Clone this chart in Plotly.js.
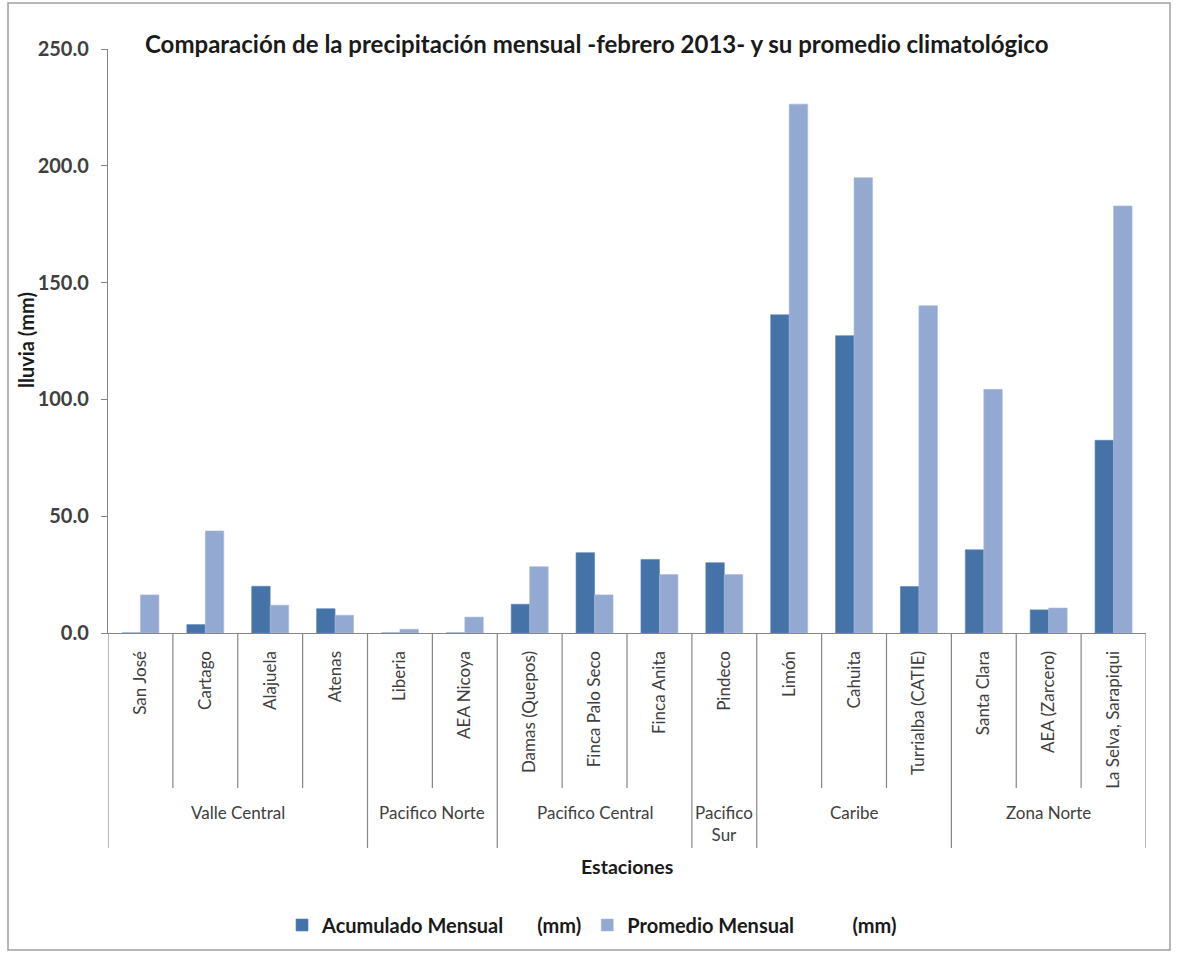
<!DOCTYPE html>
<html>
<head>
<meta charset="utf-8">
<script src="https://cdn.plot.ly/plotly-3.0.1.min.js"></script>
<style>html,body{margin:0;padding:0;background:#fff;}#chart{width:1177px;height:955px;}</style>
</head>
<body>
<div id="chart"></div>
<script>
// ---- data ----
var stations = ["San José","Cartago","Alajuela","Atenas","Liberia","AEA Nicoya","Damas (Quepos)","Finca Palo Seco","Finca Anita","Pindeco","Limón","Cahuita","Turrialba (CATIE)","Santa Clara","AEA (Zarcero)","La Selva, Sarapiqui"];
var acumulado = [0, 3.6, 20.0, 10.4, 0, 0, 12.3, 34.4, 31.5, 30.1, 136.2, 127.3, 19.9, 35.6, 9.9, 82.5];
var promedio  = [16.3, 43.7, 11.9, 7.6, 1.6, 6.8, 28.4, 16.3, 25.0, 25.0, 226.4, 194.9, 140.1, 104.3, 10.7, 182.8];
var regions = ["Valle Central","Pacifico Norte","Pacifico Central","Pacifico<br>Sur","Caribe","Zona Norte"];
var regionSizes = [4, 2, 3, 1, 3, 3];
var yTicks = [0, 50, 100, 150, 200, 250];

var FONT = "Lato, 'Open Sans', sans-serif";
var GRAY = "#868686";
function nb(n){ return new Array(n + 1).join("\u00a0"); }

var traces = [
  {type:"bar", name:"Acumulado Mensual" + nb(7) + "(mm)", x:stations, y:acumulado,
   marker:{color:"#4572A7", line:{color:"#5A84B8", width:0.6}}},
  {type:"bar", name:"Promedio Mensual" + nb(12) + "(mm)", x:stations, y:promedio,
   marker:{color:"#94A9D1", line:{color:"#A9BBDC", width:0.6}}}
];

// separators and group labels
var shapes = [];
var annotations = [];
var pxH = 584; // plot height in px (for paper conversion)
function py(p){ return -(p)/pxH; } // p: px below the axis
var start = 0;
var groupBounds = {0:true};
for (var g = 0; g < regions.length; g++) {
  var end = start + regionSizes[g];
  groupBounds[end] = true;
  annotations.push({xref:"x", yref:"paper", x:(start + end - 1)/2, y:py(167), yanchor:"top", xanchor:"center",
    text:regions[g], showarrow:false, font:{family:FONT, size:17, color:"#404040"}, align:"center"});
  start = end;
}
for (var i = 0; i <= stations.length; i++) {
  var len = groupBounds[i] ? 215 : 155;
  shapes.push({type:"line", xref:"x", yref:"paper", x0:i-0.5, x1:i-0.5, y0:0, y1:py(len),
    line:{color:GRAY, width:1.2}});
}
// outer border
shapes.push({type:"rect", xref:"paper", yref:"paper", x0:(8-108)/1038, x1:(1170-108)/1038, y0:py(317), y1:(633-3)/pxH,
  line:{color:"#a0a0a0", width:1.5}, fillcolor:"rgba(0,0,0,0)"});

annotations.push({xref:"paper", yref:"paper", x:0.5, y:py(233), yanchor:"middle", xanchor:"center",
  text:"<b>Estaciones</b>", showarrow:false, font:{family:FONT, size:19.5, color:"#1a1a1a"}});
annotations.push({xref:"paper", yref:"paper", x:(26-108)/1038, y:(633-340)/pxH, xanchor:"center", yanchor:"middle",
  text:"<b>lluvia (mm)</b>", textangle:-90, showarrow:false, font:{family:FONT, size:20, color:"#1a1a1a"}});

var layout = {
  width:1177, height:955,
  margin:{l:108, r:31, t:49, b:322},
  paper_bgcolor:"#fff", plot_bgcolor:"#fff",
  barmode:"group", bargap:0.43, bargroupgap:0,
  title:{text:"<b>Comparación de la precipitación mensual -febrero 2013- y su promedio climatológico</b>",
    xref:"container", yref:"container", x:0.507, y:1-45/955, xanchor:"center", yanchor:"middle",
    font:{family:FONT, size:24, color:"#1a1a1a"}},
  xaxis:{type:"category", categoryarray:stations, range:[-0.5, 15.5], tickangle:-90,
    ticks:"", showline:true, linecolor:GRAY, linewidth:1.2, showgrid:false, zeroline:false,
    ticklabelstandoff:10, tickfont:{family:FONT, size:17, color:"#404040"}, fixedrange:true},
  yaxis:{range:[0, 250], tickvals:yTicks, tickformat:".1f", ticks:"outside", ticklen:6, tickcolor:GRAY,
    showline:true, linecolor:GRAY, linewidth:1.2, showgrid:false, zeroline:false,
    ticklabelstandoff:8, tickfont:{family:FONT, size:20, color:"#404040", weight:"bold"}, fixedrange:true},
  showlegend:true,
  legend:{orientation:"h", xref:"container", yref:"container", x:0.503, y:1-925/955, xanchor:"center", yanchor:"middle",
    font:{family:FONT, size:20, color:"#1a1a1a", weight:"bold"}, itemwidth:30, traceorder:"normal"},
  shapes:shapes,
  annotations:annotations
};

Plotly.newPlot("chart", traces, layout, {displayModeBar:false, staticPlot:true});
</script>
</body>
</html>
